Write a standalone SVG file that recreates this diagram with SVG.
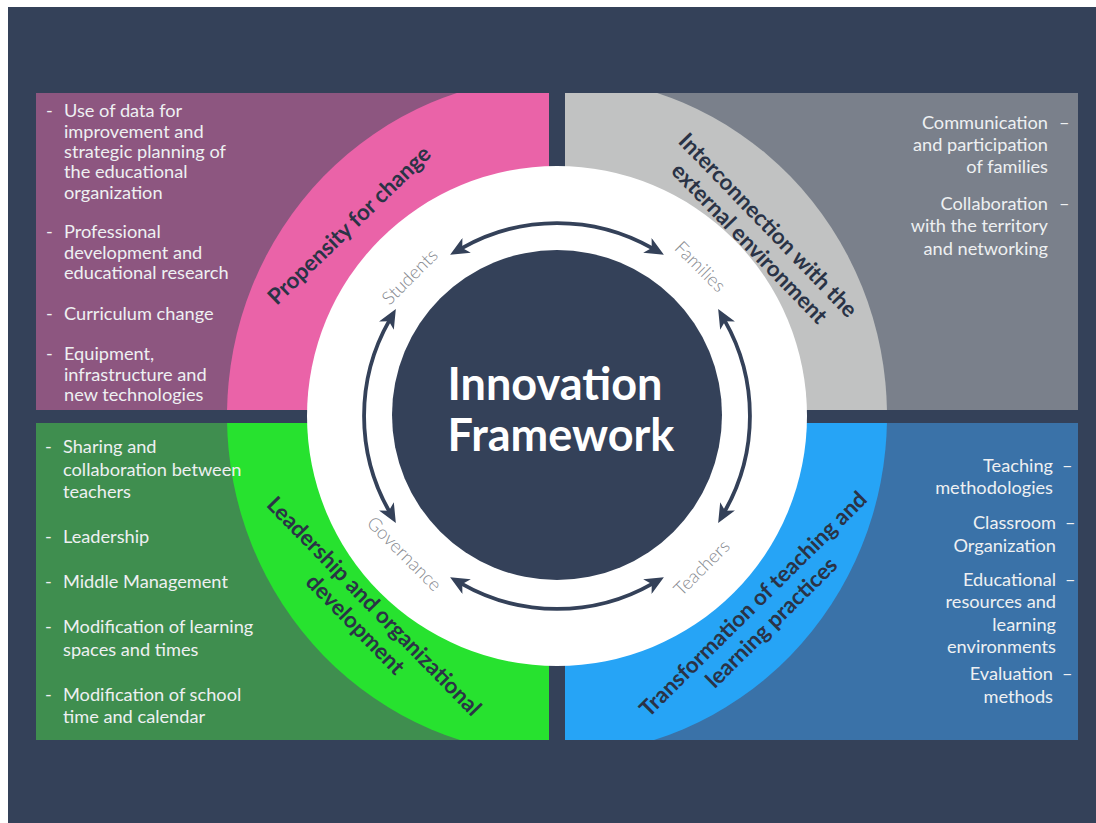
<svg xmlns="http://www.w3.org/2000/svg" width="1096" height="823" viewBox="0 0 1096 823">
  <style>
    .bul { font-family: Lato, "Open Sans", "Liberation Sans", sans-serif; font-size: 18.2px; fill: #eef0f2; }
    .r { text-anchor: end; }
    .ring-label { font-family: Lato, "Open Sans", "Liberation Sans", sans-serif; font-size: 18.5px; font-weight: 300; fill: #86898f; text-anchor: middle; }
    .dim { font-family: Lato, "Open Sans", "Liberation Sans", sans-serif; font-size: 22.3px; font-weight: 700; fill: #2a3346; text-anchor: middle; }
    .title { font-family: Lato, "Open Sans", "Liberation Sans", sans-serif; font-size: 45px; font-weight: 700; fill: #ffffff; text-anchor: middle; }
    .arc { fill: none; stroke: #344159; stroke-width: 3.8; marker-start: url(#head); marker-end: url(#head); }
  </style>
  <defs>
    <marker id="head" markerUnits="userSpaceOnUse" markerWidth="19" markerHeight="17" viewBox="0 0 19 17" refX="6" refY="8.5" orient="auto-start-reverse">
      <path d="M0,0 L19,8.5 L0,17 L5,8.5 Z" fill="#344159"/>
    </marker>
    <clipPath id="cTL"><rect x="36" y="93" width="513" height="317"/></clipPath>
    <clipPath id="cTR"><rect x="565" y="93" width="513" height="317"/></clipPath>
    <clipPath id="cBL"><rect x="36" y="423" width="513" height="317"/></clipPath>
    <clipPath id="cBR"><rect x="565" y="423" width="513" height="317"/></clipPath>
  </defs>

  <rect x="0" y="0" width="1096" height="823" fill="#ffffff"/>
  <rect x="8" y="7" width="1088" height="816" fill="#344159"/>

  <g id="q-propensity">
    <rect x="36" y="93" width="513" height="317" fill="#8d5680"/>
    <ellipse cx="557" cy="416" rx="330" ry="339" fill="#ea63a8" clip-path="url(#cTL)"/>
  </g>
  <g id="q-interconnection">
    <rect x="565" y="93" width="513" height="317" fill="#7a808b"/>
    <ellipse cx="557" cy="416" rx="330" ry="339" fill="#c1c2c2" clip-path="url(#cTR)"/>
  </g>
  <g id="q-leadership">
    <rect x="36" y="423" width="513" height="317" fill="#3f8e4f"/>
    <ellipse cx="557" cy="416" rx="330" ry="339" fill="#27e22f" clip-path="url(#cBL)"/>
  </g>
  <g id="q-transformation">
    <rect x="565" y="423" width="513" height="317" fill="#3a72a8"/>
    <ellipse cx="557" cy="416" rx="330" ry="339" fill="#26a4f6" clip-path="url(#cBR)"/>
  </g>

  <g id="ring">
    <circle cx="557" cy="416" r="250" fill="#ffffff"/>
  </g>

  <g id="center">
    <circle cx="557" cy="415" r="165" fill="#344159"/>
    <text class="title" x="555" y="400">Innovation</text>
    <text class="title" x="561" y="451">Framework</text>
  </g>

  <g id="connectors">
    <path class="arc" d="M461.4,248.4 A193,193 0 0 1 652.6,248.4"/>
    <path class="arc" d="M724.6,320.4 A193,193 0 0 1 724.6,511.6"/>
    <path class="arc" d="M652.6,583.6 A193,193 0 0 1 461.4,583.6"/>
    <path class="arc" d="M389.4,511.6 A193,193 0 0 1 389.4,320.4"/>
  </g>

  <g id="node-students"><text class="ring-label" transform="translate(410,277) rotate(-45)" y="6">Students</text></g>
  <g id="node-families"><text class="ring-label" transform="translate(700,267) rotate(45)" y="6">Families</text></g>
  <g id="node-governance"><text class="ring-label" transform="translate(404,554) rotate(45)" y="6">Governance</text></g>
  <g id="node-teachers"><text class="ring-label" transform="translate(702,568) rotate(-45)" y="6">Teachers</text></g>

  <g id="label-propensity">
    <text class="dim" transform="translate(349,225) rotate(-44)" y="8">Propensity for change</text>
  </g>
  <g id="label-interconnection" transform="translate(759,234) rotate(46)">
    <text class="dim" x="0" y="-5">Interconnection with the</text>
    <text class="dim" x="0" y="21">external environment</text>
  </g>
  <g id="label-leadership" transform="translate(365,615) rotate(45.7)">
    <text class="dim" x="0" y="-5">Leadership and organizational</text>
    <text class="dim" x="0" y="21">development</text>
  </g>
  <g id="label-transformation" transform="translate(762,613) rotate(-44.7)">
    <text class="dim" x="0" y="-5">Transformation of teaching and</text>
    <text class="dim" x="0" y="21">learning practices</text>
  </g>

  <g id="list-propensity" class="bul">
    <text x="46" y="117">-</text>
    <text x="64" y="117">Use of data for</text>
    <text x="64" y="138">improvement and</text>
    <text x="64" y="158">strategic planning of</text>
    <text x="64" y="178">the educational</text>
    <text x="64" y="199">organization</text>
    <text x="46" y="238">-</text>
    <text x="64" y="238">Professional</text>
    <text x="64" y="259">development and</text>
    <text x="64" y="279">educational research</text>
    <text x="46" y="320">-</text>
    <text x="64" y="320">Curriculum change</text>
    <text x="46" y="360">-</text>
    <text x="64" y="360">Equipment,</text>
    <text x="64" y="381">infrastructure and</text>
    <text x="64" y="401">new technologies</text>
  </g>

  <g id="list-interconnection" class="bul">
    <text class="r" x="1048" y="129">Communication</text>
    <text class="r" x="1048" y="151">and participation</text>
    <text class="r" x="1048" y="173">of families</text>
    <text x="1059" y="129">–</text>
    <text class="r" x="1048" y="210">Collaboration</text>
    <text class="r" x="1048" y="232">with the territory</text>
    <text class="r" x="1048" y="255">and networking</text>
    <text x="1059" y="210">–</text>
  </g>

  <g id="list-leadership" class="bul">
    <text x="45" y="453">-</text>
    <text x="63" y="453">Sharing and</text>
    <text x="63" y="476">collaboration between</text>
    <text x="63" y="498">teachers</text>
    <text x="45" y="543">-</text>
    <text x="63" y="543">Leadership</text>
    <text x="45" y="588">-</text>
    <text x="63" y="588">Middle Management</text>
    <text x="45" y="633">-</text>
    <text x="63" y="633">Modification of learning</text>
    <text x="63" y="656">spaces and times</text>
    <text x="45" y="701">-</text>
    <text x="63" y="701">Modification of school</text>
    <text x="63" y="723">time and calendar</text>
  </g>

  <g id="list-transformation" class="bul">
    <text class="r" x="1053" y="472">Teaching</text>
    <text class="r" x="1053" y="494">methodologies</text>
    <text x="1062" y="472">–</text>
    <text class="r" x="1056" y="529">Classroom</text>
    <text class="r" x="1056" y="552">Organization</text>
    <text x="1065" y="529">–</text>
    <text class="r" x="1056" y="586">Educational</text>
    <text class="r" x="1056" y="608">resources and</text>
    <text class="r" x="1056" y="631">learning</text>
    <text class="r" x="1056" y="653">environments</text>
    <text x="1065" y="586">–</text>
    <text class="r" x="1053" y="680">Evaluation</text>
    <text class="r" x="1053" y="703">methods</text>
    <text x="1062" y="680">–</text>
  </g>
</svg>
